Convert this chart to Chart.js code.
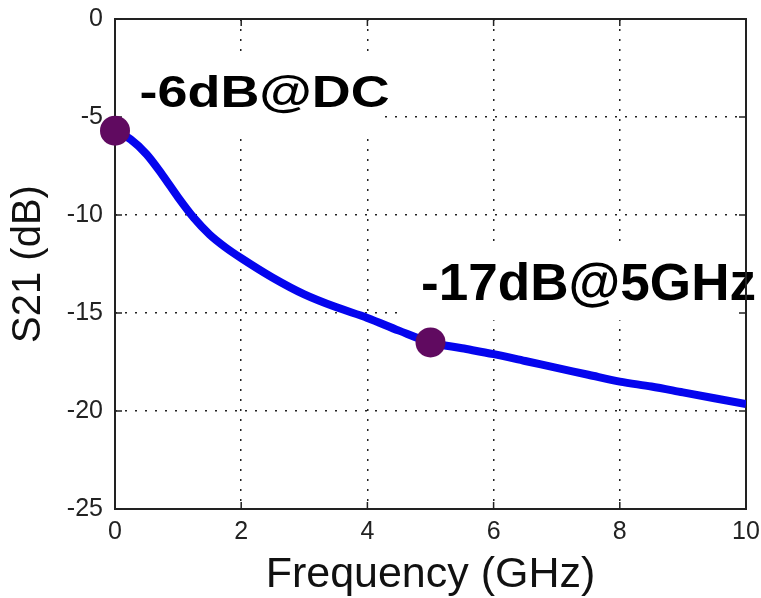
<!DOCTYPE html>
<html lang="en">
<head>
    <meta charset="UTF-8">
    <title>S21 vs Frequency</title>
    <script src="https://cdn.jsdelivr.net/npm/chart.js"></script>
    <style>
        html, body {
            margin: 0;
            padding: 0;
            background: #fff;
        }
    </style>
</head>
<body>
    <canvas id="s21Chart" width="761" height="598"></canvas>

    <script>
        // Data
        const freqGHz = [0, 0.25, 0.5, 0.75, 1.0, 1.25, 1.5, 1.75, 2.0, 2.5, 3.0, 3.5, 4.0, 4.5, 5.0,
                         5.5, 6.0, 6.5, 7.0, 7.5, 8.0, 8.5, 9.0, 9.5, 10.0];
        const s21dB = [-5.7, -6.15, -6.9, -7.95, -9.1, -10.15, -11.0, -11.65, -12.2, -13.2, -14.05, -14.7, -15.25, -15.9, -16.5,
                       -16.8, -17.1, -17.45, -17.8, -18.15, -18.5, -18.75, -19.05, -19.35, -19.65];

        const markerFreq = [0, 5];
        const markerDb = [-5.7, -16.5];

        const xTicks = [0, 2, 4, 6, 8, 10];
        const yTicks = [0, -5, -10, -15, -20, -25];

        // annotation text, anchored in data units (left edge, baseline)
        const noteTexts = ['-6dB@DC', '-17dB@5GHz'];
        const noteFreq = [0.39, 4.85];
        const noteDb = [-4.5, -14.35];

        const noteStyle = [
            { size: 45, width: 250, pad: [22, -5, 55, 26] },
            { size: 51, width: 335, pad: [22, 10, 55, 20] }
        ];

        const ctx = document.getElementById('s21Chart').getContext('2d');

        const noteBoxes = {
            id: 'noteBoxes',
            beforeDatasetsDraw(chart) {
                const c = chart.ctx;
                const { x, y } = chart.scales;
                c.save();
                noteTexts.forEach((t, i) => {
                    const st = noteStyle[i];
                    const px = x.getPixelForValue(noteFreq[i]);
                    const py = y.getPixelForValue(noteDb[i]);
                    // white backdrop hides the grid like the original
                    c.fillStyle = '#fff';
                    c.fillRect(px - st.pad[0], py - st.pad[2],
                        st.width + st.pad[0] + st.pad[1], st.pad[2] + st.pad[3]);
                    c.font = `bold ${st.size}px "Liberation Sans", Arial, sans-serif`;
                    const w = c.measureText(t).width;
                    c.save();
                    c.translate(px, py);
                    c.scale(st.width / w, 1);
                    c.fillStyle = '#000';
                    c.textBaseline = 'alphabetic';
                    c.fillText(t, 0, 0);
                    c.restore();
                });

                // axes box with inward ticks
                const a = chart.chartArea;
                c.strokeStyle = '#222';
                c.lineWidth = 2;
                c.strokeRect(a.left, a.top, a.right - a.left, a.bottom - a.top);
                c.lineWidth = 1.5;
                c.beginPath();
                xTicks.forEach(v => {
                    const px = x.getPixelForValue(v);
                    c.moveTo(px, a.bottom); c.lineTo(px, a.bottom - 7);
                    c.moveTo(px, a.top); c.lineTo(px, a.top + 7);
                });
                yTicks.forEach(v => {
                    const py = y.getPixelForValue(v);
                    c.moveTo(a.left, py); c.lineTo(a.left + 7, py);
                    c.moveTo(a.right, py); c.lineTo(a.right - 7, py);
                });
                c.stroke();
                c.restore();
            }
        };

        const dottedGrid = (lo, hi) => ({
            drawTicks: false,
            lineWidth: 1.5,
            color: c => (c.tick && (c.tick.value === lo || c.tick.value === hi)) ? 'rgba(0,0,0,0)' : '#222'
        });

        new Chart(ctx, {
            type: 'line',
            data: {
                datasets: [
                    {
                        label: 'S21',
                        data: freqGHz.map((f, i) => ({ x: f, y: s21dB[i] })),
                        borderColor: '#0505ee',
                        borderWidth: 8,
                        pointRadius: 0,
                        tension: 0.4,
                        cubicInterpolationMode: 'monotone',
                        order: 2
                    },
                    {
                        label: 'markers',
                        data: markerFreq.map((f, i) => ({ x: f, y: markerDb[i] })),
                        showLine: false,
                        pointRadius: 15,
                        pointBackgroundColor: '#600a60',
                        pointBorderColor: '#600a60',
                        pointBorderWidth: 0,
                        clip: false,
                        order: 1
                    }
                ]
            },
            options: {
                responsive: false,
                animation: false,
                events: [],
                layout: { padding: { top: 19, right: 13, left: 0, bottom: 0 } },
                plugins: {
                    legend: { display: false },
                    tooltip: { enabled: false }
                },
                scales: {
                    x: {
                        type: 'linear',
                        min: 0,
                        max: 10,
                        afterFit: s => { s.height = 89; s.paddingLeft = 0; s.paddingRight = 0; },
                        afterBuildTicks: s => { s.ticks = xTicks.map(v => ({ value: v })); },
                        border: { display: false, dash: [2, 8] },
                        grid: dottedGrid(0, 10),
                        ticks: {
                            padding: 8,
                            color: '#222',
                            font: { family: '"Liberation Sans", Arial, sans-serif', size: 25 }
                        },
                        title: {
                            display: true,
                            text: 'Frequency (GHz)',
                            color: '#111',
                            padding: { top: 0, bottom: 1.5 },
                            font: { family: '"Liberation Sans", Arial, sans-serif', size: 43, lineHeight: 1 }
                        }
                    },
                    y: {
                        type: 'linear',
                        min: -25,
                        max: 0,
                        afterFit: s => { s.width = 115; s.paddingTop = 0; s.paddingBottom = 0; },
                        afterBuildTicks: s => { s.ticks = yTicks.slice().reverse().map(v => ({ value: v })); },
                        border: { display: false, dash: [2, 8] },
                        grid: dottedGrid(-25, 0),
                        ticks: {
                            padding: 12,
                            color: '#222',
                            font: { family: '"Liberation Sans", Arial, sans-serif', size: 25 }
                        },
                        title: {
                            display: true,
                            text: 'S21 (dB)',
                            color: '#111',
                            padding: { top: 9, bottom: 0 },
                            font: { family: '"Liberation Sans", Arial, sans-serif', size: 40, lineHeight: 1 }
                        }
                    }
                }
            },
            plugins: [noteBoxes]
        });
    </script>
</body>
</html>
